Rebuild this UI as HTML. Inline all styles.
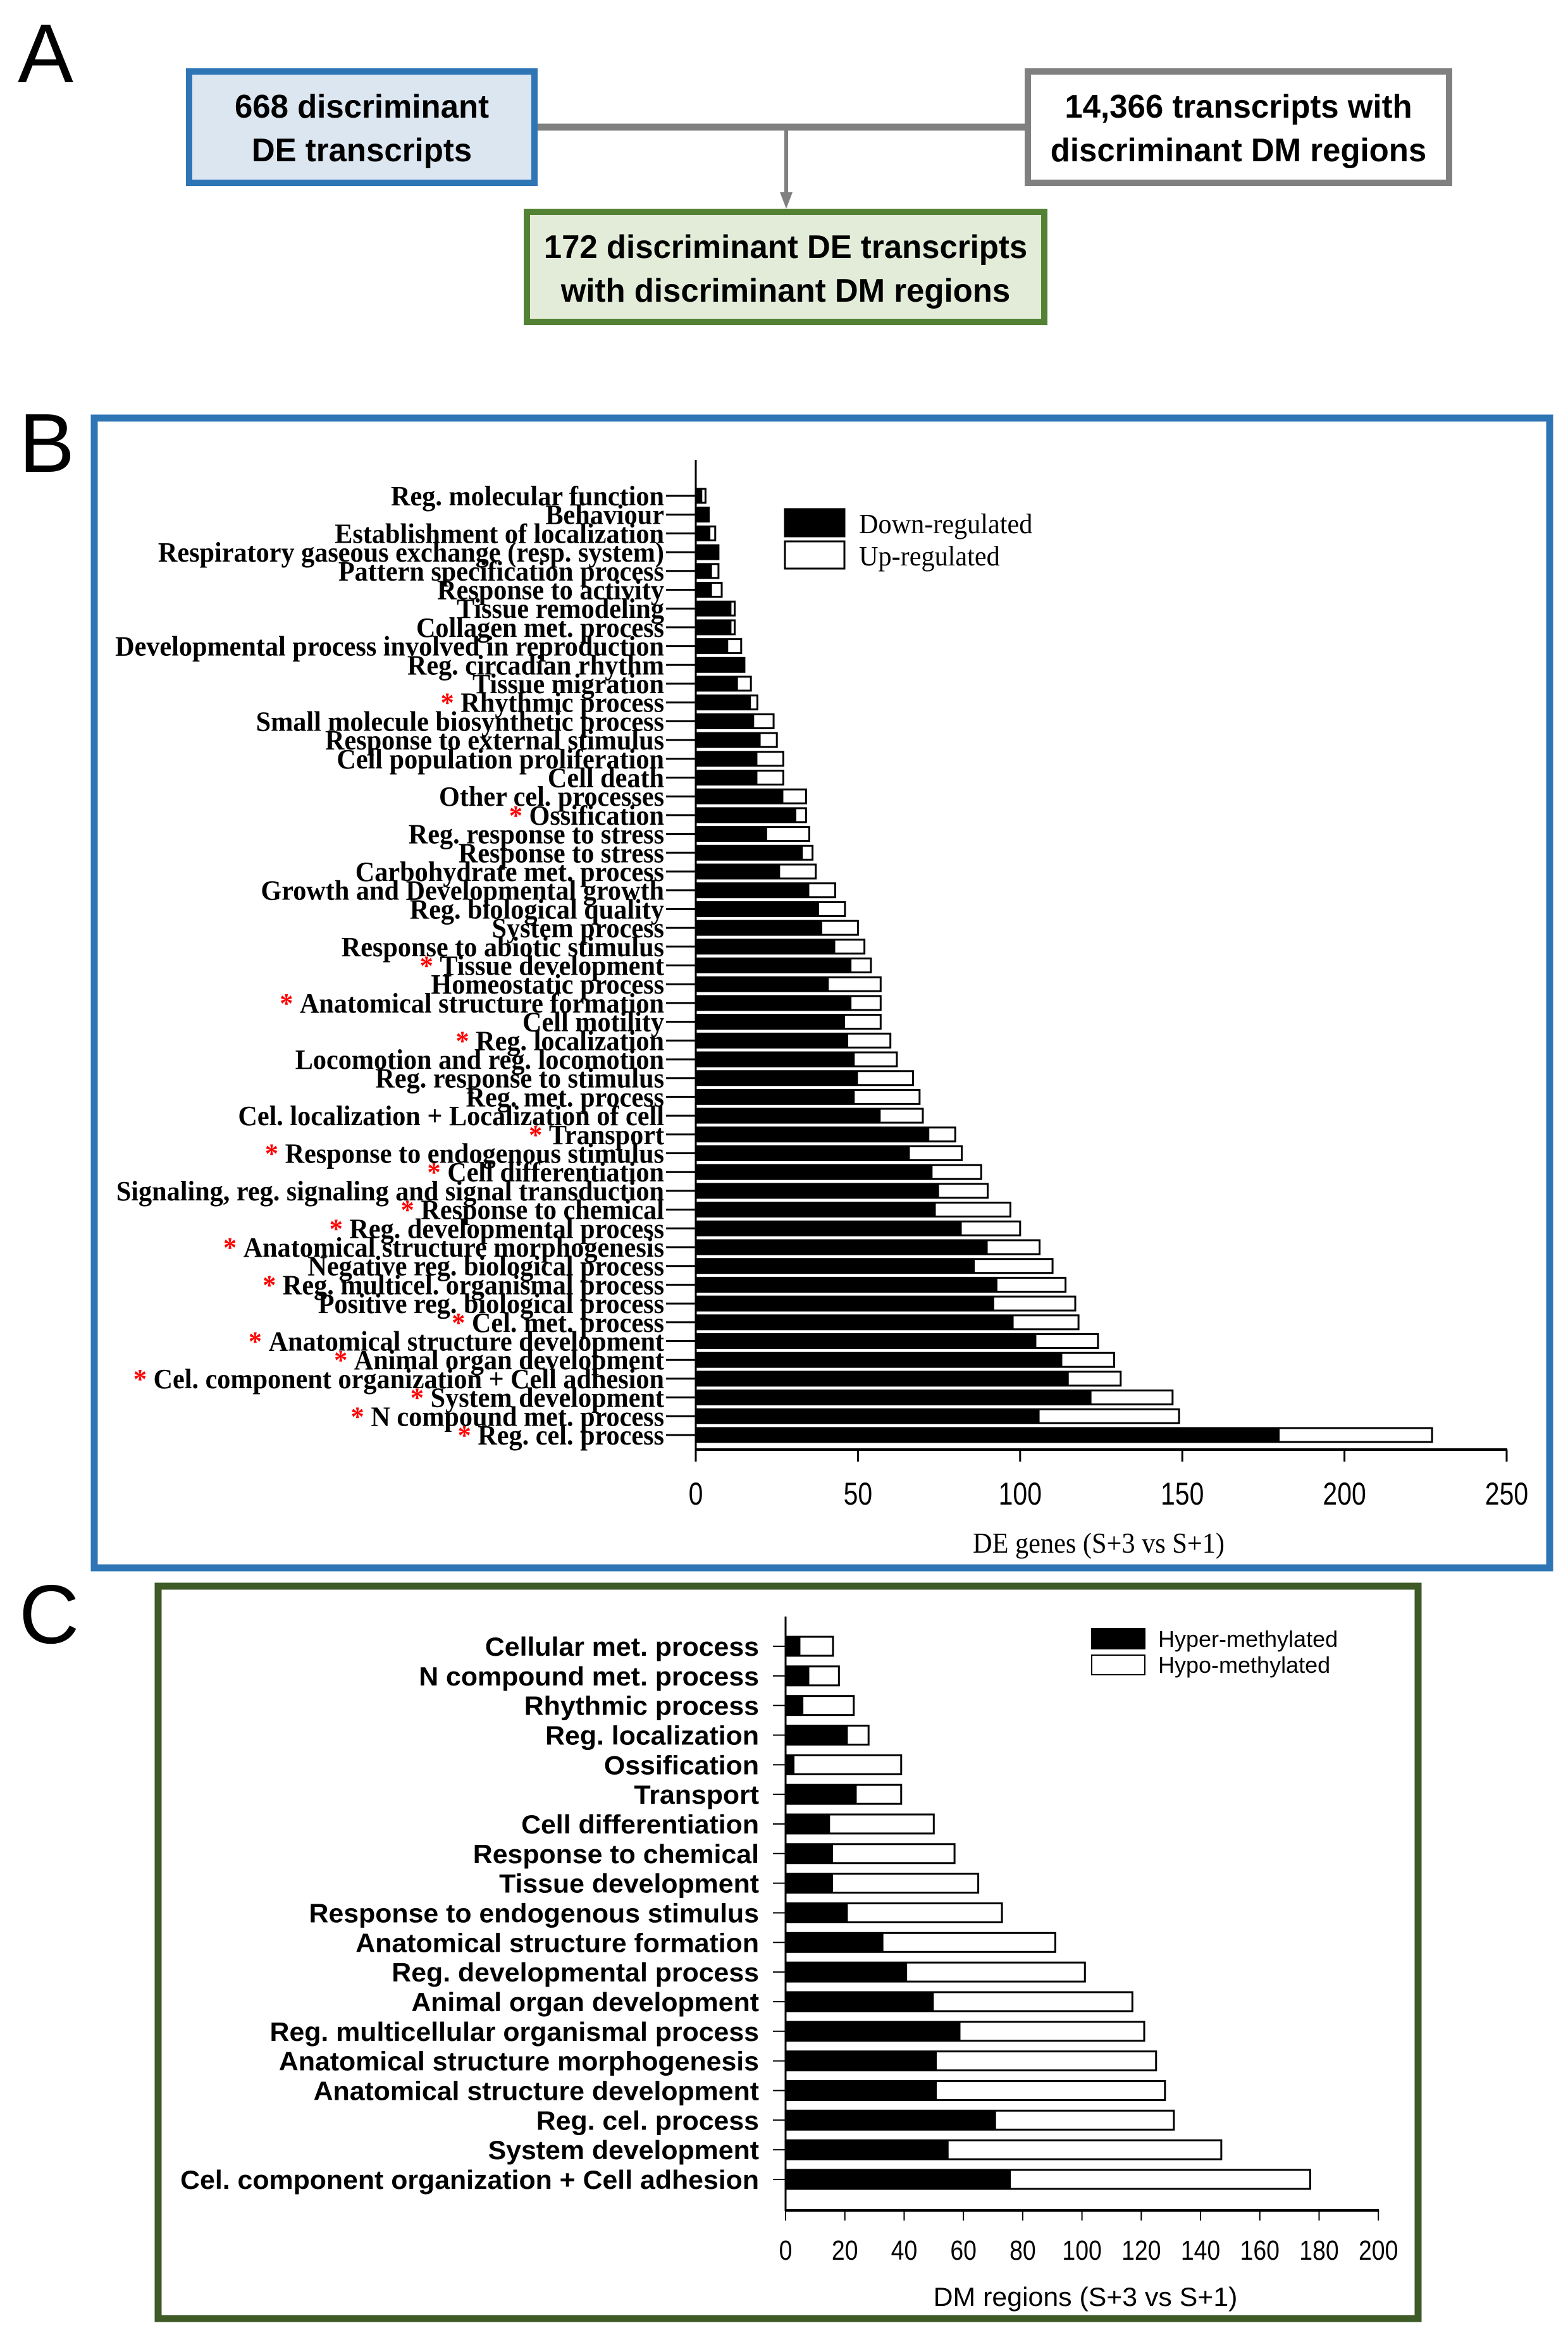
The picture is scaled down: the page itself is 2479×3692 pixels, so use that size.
<!DOCTYPE html>
<html><head><meta charset="utf-8"><style>
html,body{margin:0;padding:0;background:#fff;}
svg{display:block;}
</style></head><body>
<svg id="fig" xmlns="http://www.w3.org/2000/svg" width="2479" height="3692" viewBox="0 0 2479 3692">
<rect x="0" y="0" width="2479" height="3692" fill="#fff"/>
<!-- Panel A -->
<g>
<text x="28" y="130" font-family="Liberation Sans, sans-serif" font-size="132">A</text>
<line x1="846" y1="201" x2="1622" y2="201" stroke="#808080" stroke-width="11"/>
<line x1="1243" y1="201" x2="1243" y2="308" stroke="#808080" stroke-width="6"/>
<polygon points="1233,304 1253,304 1243,330" fill="#808080"/>
<rect x="299" y="113" width="546" height="176" fill="#dce6f1" stroke="#2e75b6" stroke-width="10"/>
<rect x="1625" y="113" width="666" height="176" fill="#fff" stroke="#808080" stroke-width="10"/>
<rect x="833" y="335" width="818" height="174" fill="#e3ecd9" stroke="#548235" stroke-width="10"/>
<g font-family="Liberation Sans, sans-serif" font-weight="bold" font-size="52" text-anchor="middle" fill="#000">
<text transform="translate(572,186) scale(0.98,1)">668 discriminant</text>
<text transform="translate(572,255) scale(0.98,1)">DE transcripts</text>
<text transform="translate(1958,186) scale(0.98,1)">14,366 transcripts with</text>
<text transform="translate(1958,255) scale(0.98,1)">discriminant DM regions</text>
<text transform="translate(1242,408) scale(0.98,1)">172 discriminant DE transcripts</text>
<text transform="translate(1242,477) scale(0.98,1)">with discriminant DM regions</text>
</g>
</g>
<!-- Panel B frame -->
<text x="30" y="746" font-family="Liberation Sans, sans-serif" font-size="132">B</text>
<rect x="149" y="661" width="2301" height="1818" fill="none" stroke="#2e75b6" stroke-width="11"/>
<g id="chartB"></g>
<!-- Panel C frame -->
<text x="30" y="2598" font-family="Liberation Sans, sans-serif" font-size="132">C</text>
<rect x="250" y="2508" width="1992" height="1158" fill="none" stroke="#3d5a27" stroke-width="11"/>
<g id="chartC"></g>
</svg>
<script>
const catsB = ["Reg. molecular function","Behaviour","Establishment of localization","Respiratory gaseous exchange (resp. system)","Pattern specification process","Response to activity","Tissue remodeling","Collagen met. process","Developmental process involved in reproduction","Reg. circadian rhythm","Tissue migration","Rhythmic process","Small molecule biosynthetic process","Response to external stimulus","Cell population proliferation","Cell death","Other cel. processes","Ossification","Reg. response to stress","Response to stress","Carbohydrate met. process","Growth and Developmental growth","Reg. biological quality","System process","Response to abiotic stimulus","Tissue development","Homeostatic process","Anatomical structure formation","Cell motility","Reg. localization","Locomotion and reg. locomotion","Reg. response to stimulus","Reg. met. process","Cel. localization + Localization of cell","Transport","Response to endogenous stimulus","Cell differentiation","Signaling, reg. signaling and signal transduction","Response to chemical","Reg. developmental process","Anatomical structure morphogenesis","Negative reg. biological process","Reg. multicel. organismal process","Positive reg. biological process","Cel. met. process","Anatomical structure development","Animal organ development","Cel. component organization + Cell adhesion","System development","N compound met. process","Reg. cel. process"];
const starB = [0,0,0,0,0,0,0,0,0,0,0,1,0,0,0,0,0,1,0,0,0,0,0,0,0,1,0,1,0,1,0,0,0,0,1,1,1,0,1,1,1,0,1,0,1,1,1,1,1,1,1];
const downB = [2,4,4.5,7,5,5,11,11,10,15,13,17,18,20,19,19,27,31,22,33,26,35,38,39,43,48,41,48,46,47,49,50,49,57,72,66,73,75,74,82,90,86,93,92,98,105,113,115,122,106,180];
const totalB = [3,4,6,7,7,8,12,12,14,15,17,19,24,25,27,27,34,34,35,36,37,43,46,50,52,54,57,57,57,60,62,67,69,70,80,82,88,90,97,100,106,110,114,117,118,124,129,131,147,149,227];
const ticksB = [0,50,100,150,200,250];

const catsC = ["Cellular met. process","N compound met. process","Rhythmic process","Reg. localization","Ossification","Transport","Cell differentiation","Response to chemical","Tissue development","Response to endogenous stimulus","Anatomical structure formation","Reg. developmental process","Animal organ development","Reg. multicellular organismal process","Anatomical structure morphogenesis","Anatomical structure development","Reg. cel. process","System development","Cel. component organization + Cell adhesion"];
const hyperC = [5,8,6,21,3,24,15,16,16,21,33,41,50,59,51,51,71,55,76];
const totalC = [16,18,23,28,39,39,50,57,65,73,91,101,117,121,125,128,131,147,177];
const ticksC = [0,20,40,60,80,100,120,140,160,180,200];

const NS = "http://www.w3.org/2000/svg";
function mk(parent, tag, attrs){ const e=document.createElementNS(NS,tag); for(const k in attrs) e.setAttribute(k,attrs[k]); parent.appendChild(e); return e; }

// ---- Chart B ----
(function(){
  const g = document.getElementById('chartB');
  const x0=1100, pxPer=5.128, y0=784, step=29.7, bh=22, axisY=2292;
  const xB = v => x0 + v*pxPer;
  const yB = i => y0 + i*step;
  let e;
  e = mk(g,'line',{x1:x0,y1:727,x2:x0,y2:axisY+1,stroke:'#000','stroke-width':3});
   
  e = mk(g,'line',{x1:x0-1,y1:axisY,x2:xB(250)+1,y2:axisY,stroke:'#000','stroke-width':4});
   
  ticksB.forEach(t=>{
    e = mk(g,'line',{x1:xB(t),y1:axisY,x2:xB(t),y2:axisY+19,stroke:'#000','stroke-width':3});
     
    e = mk(g,'text',{transform:`translate(${xB(t)},2379) scale(0.82,1)`,'text-anchor':'middle','font-family':'Liberation Sans, sans-serif','font-size':50});
    e.textContent=t;
     
  });
  e = mk(g,'text',{transform:'translate(1737,2455) scale(0.92,1)','text-anchor':'middle','font-family':'Liberation Serif, serif','font-size':46});
  e.textContent='DE genes (S+3 vs S+1)';
   
  catsB.forEach((c,i)=>{
    const y=yB(i);
    e = mk(g,'line',{x1:1053,y1:y,x2:x0,y2:y,stroke:'#000','stroke-width':3});
     
    e = mk(g,'rect',{x:x0,y:y-bh/2,width:(totalB[i])*pxPer,height:bh,fill:'#fff',stroke:'#000','stroke-width':3});
     
    e = mk(g,'rect',{x:x0,y:y-bh/2,width:downB[i]*pxPer,height:bh,fill:'#000'});
     
    const t = mk(g,'text',{transform:`translate(1050,${y+15}) scale(0.96,1)`,'text-anchor':'end','font-family':'Liberation Serif, serif','font-weight':'bold','font-size':44});
     
    if(starB[i]){ const s=mk(t,'tspan',{fill:'#ff0000'}); s.textContent='* '; }
    const s2=mk(t,'tspan',{}); s2.textContent=c;
  });
  e = mk(g,'rect',{x:1241,y:805,width:94,height:43,fill:'#000',stroke:'#000','stroke-width':3});
   
  e = mk(g,'rect',{x:1241,y:856,width:94,height:43,fill:'#fff',stroke:'#000','stroke-width':3});
   
  e = mk(g,'text',{transform:'translate(1358,843) scale(0.96,1)','font-family':'Liberation Serif, serif','font-size':44});
  e.textContent='Down-regulated';
   
  e = mk(g,'text',{transform:'translate(1358,894) scale(0.96,1)','font-family':'Liberation Serif, serif','font-size':44});
  e.textContent='Up-regulated';
   
})();

// ---- Chart C ----
(function(){
  const g = document.getElementById('chartC');
  const x0=1242, pxPer=4.686, y0=2603, step=46.83, bh=30, axisY=3495;
  const xC = v => x0 + v*pxPer;
  const yC = i => y0 + i*step;
  let e;
  e = mk(g,'line',{x1:x0,y1:2556,x2:x0,y2:axisY+1,stroke:'#000','stroke-width':3});
   
  e = mk(g,'line',{x1:x0-1,y1:axisY,x2:xC(200)+1,y2:axisY,stroke:'#000','stroke-width':4});
   
  ticksC.forEach(t=>{
    e = mk(g,'line',{x1:xC(t),y1:axisY,x2:xC(t),y2:axisY+16,stroke:'#000','stroke-width':2});
     
    e = mk(g,'text',{transform:`translate(${xC(t)},3573) scale(0.85,1)`,'text-anchor':'middle','font-family':'Liberation Sans, sans-serif','font-size':44});
    e.textContent=t;
     
  });
  e = mk(g,'text',{transform:'translate(1716,3646) scale(1.02,1)','text-anchor':'middle','font-family':'Liberation Sans, sans-serif','font-size':42});
  e.textContent='DM regions (S+3 vs S+1)';
   
  catsC.forEach((c,i)=>{
    const y=yC(i);
    e = mk(g,'line',{x1:1222,y1:y,x2:x0,y2:y,stroke:'#000','stroke-width':2});
     
    e = mk(g,'rect',{x:x0,y:y-bh/2,width:totalC[i]*pxPer,height:bh,fill:'#fff',stroke:'#000','stroke-width':3});
     
    e = mk(g,'rect',{x:x0,y:y-bh/2,width:hyperC[i]*pxPer,height:bh,fill:'#000'});
     
    e = mk(g,'text',{transform:`translate(1200,${y+15}) scale(1.02,1)`,'text-anchor':'end','font-family':'Liberation Sans, sans-serif','font-weight':'bold','font-size':42});
    e.textContent=c;
     
  });
  e = mk(g,'rect',{x:1726,y:2575,width:84,height:32,fill:'#000',stroke:'#000','stroke-width':2});
   
  e = mk(g,'rect',{x:1726,y:2617,width:84,height:31,fill:'#fff',stroke:'#000','stroke-width':2});
   
  e = mk(g,'text',{x:1831,y:2604,'font-family':'Liberation Sans, sans-serif','font-size':36});
  e.textContent='Hyper-methylated';
   
  e = mk(g,'text',{x:1831,y:2645,'font-family':'Liberation Sans, sans-serif','font-size':36});
  e.textContent='Hypo-methylated';
   
})();
</script>
</body></html>
